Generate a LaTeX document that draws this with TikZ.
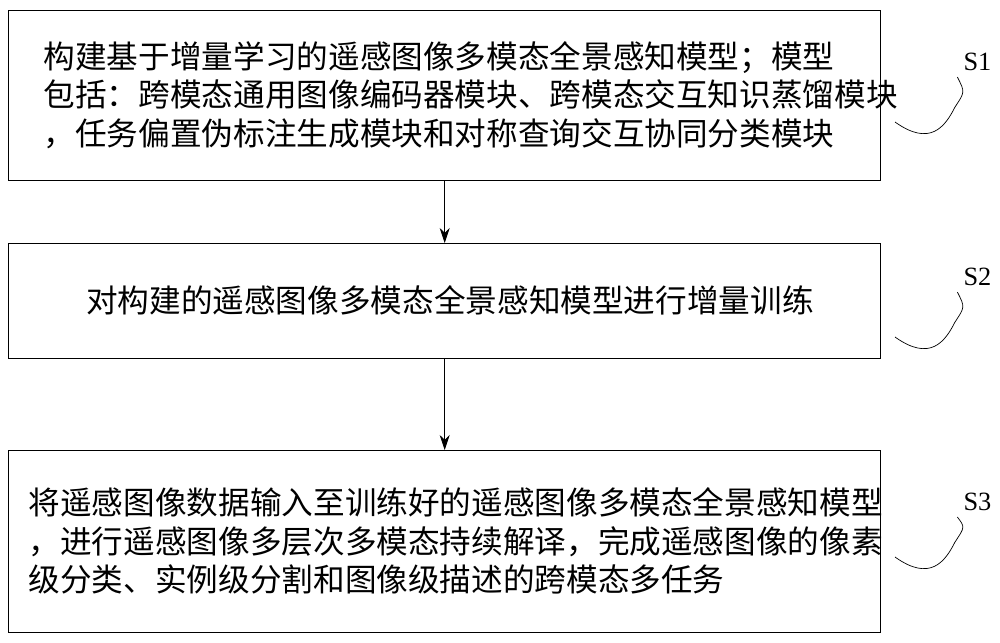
\documentclass[tikz,border=0pt]{standalone}
\usepackage{fontspec}
\setmainfont{Liberation Serif}
\newfontfamily\cjk{Noto Sans CJK SC}
\usetikzlibrary{arrows.meta,positioning}
\tikzset{
  stepbox/.style={draw,thick,minimum width=17.44cm,anchor=north west,inner sep=0pt},
  steptext/.style={anchor=west,align=left,font=\cjk\fontsize{18}{22}\selectfont},
  steplabel/.style={font=\fontsize{15}{18}\selectfont},
  flow/.style={-{Stealth[length=3mm,width=2mm]}}
}
\begin{document}
\begin{tikzpicture}
\useasboundingbox (0,0) rectangle (20,12.84);
% boxes
\node[stepbox,minimum height=3.4cm] (box1) at (0.16,12.64) {};
\node[stepbox,minimum height=2.3cm] (box2) at (0.16,7.98) {};
\node[stepbox,minimum height=3.64cm] (box3) at (0.16,3.84) {};
% texts
\node[steptext] (t1) at (0.75,10.94) {构建基于增量学习的遥感图像多模态全景感知模型；模型\\包括：跨模态通用图像编码器模块、跨模态交互知识蒸馏模块\\，任务偏置伪标注生成模块和对称查询交互协同分类模块};
\node[steptext] (t2) at (1.6,6.83) {对构建的遥感图像多模态全景感知模型进行增量训练};
\node[steptext] (t3) at (0.45,2.02) {将遥感图像数据输入至训练好的遥感图像多模态全景感知模型\\，进行遥感图像多层次多模态持续解译，完成遥感图像的像素\\级分类、实例级分割和图像级描述的跨模态多任务};
% arrows
\draw[flow] (box1.south) -- (box2.north);
\draw[flow] (box2.south) -- (box3.north);
% labels
\node[steplabel] (s1) at (19.55,11.6) {S1};
\node[steplabel] (s2) at (19.55,7.3) {S2};
\node[steplabel] (s3) at (19.55,2.8) {S3};
\coordinate (w1) at (17.9,10.4);
\coordinate (w2) at (17.9,6.1);
\coordinate (w3) at (17.9,1.7);
\draw (w1) .. controls (18.6,9.9) and (18.9,10.3) .. (19.1,10.7) .. controls (19.3,11.0) .. (s1.south west);
\draw (w2) .. controls (18.6,5.6) and (18.9,6.0) .. (19.1,6.4) .. controls (19.3,6.7) .. (s2.south west);
\draw (w3) .. controls (18.6,1.2) and (18.9,1.6) .. (19.1,2.0) .. controls (19.3,2.3) .. (s3.south west);
\end{tikzpicture}
\end{document}
